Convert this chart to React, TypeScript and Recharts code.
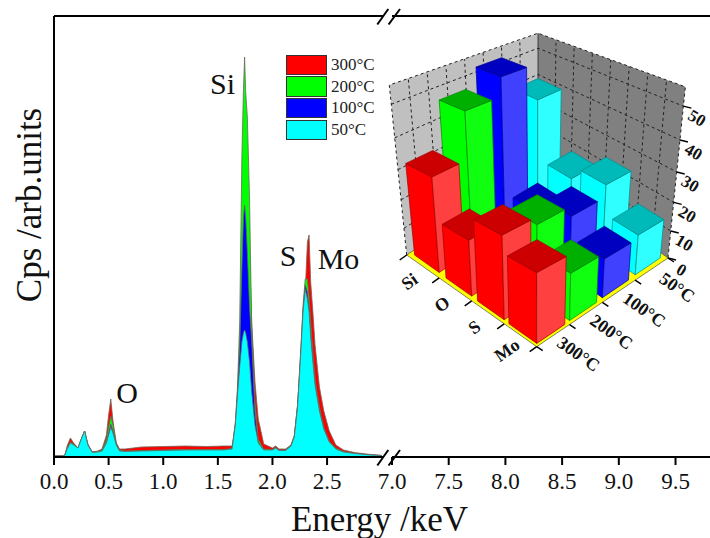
import { Area, AreaChart, Legend, ReferenceDot, Scatter, ScatterChart, XAxis, YAxis } from "recharts";

// EDS spectrum on a broken energy axis, with a 3D bar inset. Recharts has no 3D
// bars, so the inset is a scatter of floor positions with a custom box shape.

const WIDTH = 710;
const HEIGHT = 538;
const SERIF = "'Liberation Serif', 'Times New Roman', serif";

const ENERGY = [
  0, 0.08, 0.1, 0.12, 0.15, 0.18, 0.22, 0.25, 0.28, 0.31,
  0.35, 0.4, 0.44, 0.48, 0.5, 0.52, 0.54, 0.57, 0.6, 0.65,
  0.8, 1.0, 1.2, 1.4, 1.55, 1.63, 1.66, 1.68, 1.7, 1.72,
  1.735, 1.745, 1.755, 1.77, 1.79, 1.81, 1.84, 1.87, 1.92, 2.0,
  2.03, 2.06, 2.12, 2.17, 2.2, 2.23, 2.26, 2.28, 2.3, 2.32,
  2.335, 2.35, 2.37, 2.39, 2.43, 2.47, 2.52, 2.58, 2.65, 2.75,
  2.9, 3.0,
];
const COUNTS_50 = [
  1, 1, 2, 8, 14, 12, 9, 18, 26, 12,
  4.5, 5, 6, 14, 22, 30, 24, 12, 6, 5.5,
  6, 6.5, 7, 7, 7, 8, 32, 62, 90, 115,
  124, 127, 124, 115, 95, 65, 32, 14, 7, 7,
  9, 6.5, 6.5, 11, 20, 50, 105, 145, 168, 158,
  145, 120, 95, 72, 46, 28, 15, 8, 5, 3.5,
  2, 1.5,
];
const COUNTS_100 = [
  1, 1, 2, 8, 14, 12, 9, 18, 26, 12,
  4.5, 5, 6, 15, 24, 33, 26, 13, 6, 5.5,
  6, 6.5, 7, 7, 7, 8, 33, 66, 110, 190,
  240, 252, 240, 205, 150, 115, 45, 15, 7, 7,
  9, 6.5, 6.5, 11, 20, 50, 106, 147, 172, 165,
  150, 125, 98, 74, 47, 29, 15, 8, 5, 3.5,
  2, 1.5,
];
const COUNTS_200 = [
  1, 1, 2, 9, 15, 13, 9, 18, 26, 12,
  5, 5.5, 7, 18, 30, 41, 32, 14, 7, 6,
  6.5, 7, 7.5, 7.5, 7.5, 8.5, 34, 70, 135, 300,
  370, 400, 365, 340, 260, 130, 55, 18, 8, 7.5,
  9.5, 7, 7, 12, 21, 52, 108, 152, 178, 178,
  160, 135, 105, 78, 50, 30, 16, 9, 5.5, 3.5,
  2, 1.5,
];
const COUNTS_300 = [
  1, 1, 2, 11, 19, 14, 9, 18, 26, 13,
  5, 6, 8, 22, 42, 58, 36, 14, 8, 8,
  10, 10.5, 11, 10.5, 11, 11, 24, 50, 95, 190,
  260, 285, 300, 275, 205, 135, 75, 38, 13, 9,
  11, 8, 8, 12, 21, 52, 100, 130, 165, 215,
  222, 175, 145, 112, 70, 46, 26, 12, 7, 4.5,
  2.5, 1.5,
];
const TAIL_ENERGY = [7, 8, 9, 9.8];
const TAIL_COUNTS = [0, 0, 0, 0];

const LEFT_TICKS = [0, 0.5, 1, 1.5, 2, 2.5];
const RIGHT_TICKS = [7, 7.5, 8, 8.5, 9, 9.5];

const PEAK_LABELS = [
  { text: "O", energy: 0.67, counts: 65 },
  { text: "Si", energy: 1.543, counts: 374 },
  { text: "S", energy: 2.143, counts: 202 },
  { text: "Mo", energy: 2.605, counts: 199 },
];

const SERIES = [
  { key: "c300", label: "300°C", color: "#ff0000", values: COUNTS_300 },
  { key: "c200", label: "200°C", color: "#00ff00", values: COUNTS_200 },
  { key: "c100", label: "100°C", color: "#0000ff", values: COUNTS_100 },
  { key: "c50", label: "50°C", color: "#00ffff", values: COUNTS_50 },
];

const spectrum = ENERGY.map((energy, i) => ({
  energy,
  c300: COUNTS_300[i],
  c200: COUNTS_200[i],
  c100: COUNTS_100[i],
  c50: COUNTS_50[i],
}));
const tail = TAIL_ENERGY.map((energy, i) => ({ energy, counts: TAIL_COUNTS[i] }));

// inset data, at% read against the wall scale
const ELEMENTS = ["Si", "O", "S", "Mo"];
const TEMPS = ["300°C", "200°C", "100°C", "50°C"];
const BARS_300 = [32, 18.5, 26, 21];
const BARS_200 = [47, 13, 23.5, 15];
const BARS_100 = [53, 14, 20, 13];
const BARS_50 = [40.5, 19, 24, 14];
const WALL_TICKS = [0, 10, 20, 30, 40, 50];
const WALL_TOP = 55.5;

const BAR_STYLES = [
  { values: BARS_50, row: 3, left: "#00ffff", right: "#30ffff", top: "#00baba", edge: "#008c8c" },
  { values: BARS_100, row: 2, left: "#0000ff", right: "#4040ff", top: "#0000c0", edge: "#000090" },
  { values: BARS_200, row: 1, left: "#00ff00", right: "#10ff10", top: "#00b000", edge: "#008800" },
  { values: BARS_300, row: 0, left: "#ff0000", right: "#ff4040", top: "#cc0000", edge: "#a00000" },
];

// floor corners of the inset, plus the nadir the verticals converge on
const FRONT = { x: 536.7, y: 346.7 };
const LEFT = { x: 406.7, y: 255 };
const RIGHT = { x: 668, y: 258 };
const CENTER_X = 538;
const BACK_Y = 166;

function floorPoint(u: number, v: number) {
  return {
    x: FRONT.x + (LEFT.x - FRONT.x) * (1 - u) + (RIGHT.x - FRONT.x) * v,
    y: FRONT.y + (LEFT.y - FRONT.y) * (1 - u) + (RIGHT.y - FRONT.y) * v,
  };
}

const depthOf = (y: number) => (y - BACK_Y) / (FRONT.y - BACK_Y);

function project(u: number, v: number, w: number) {
  const g = floorPoint(u, v);
  const h = (2.6 * w + 0.0085 * w * w) * (0.78 + 0.44 * depthOf(g.y));
  return { x: CENTER_X + (g.x - CENTER_X) * (1 + 0.00078 * h), y: g.y - h };
}

const poly = (pts: { x: number; y: number }[]) => pts.map((p) => `${p.x},${p.y}`).join(" ");

function BarBox(props: any) {
  const { u, v, value, style, gy } = props.payload ?? props;
  // boxes further back come out narrower
  const a = 0.113 * (0.7 + 0.28 * depthOf(gy));
  const corner = (du: number, dv: number, w: number) => project(u + du * a, v + dv * a, w);
  const strokeProps = { stroke: style.edge, strokeWidth: 0.7 };
  return (
    <g>
      <polygon
        points={poly([corner(-1, -1, 0), corner(1, -1, 0), corner(1, -1, value), corner(-1, -1, value)])}
        fill={style.left}
        {...strokeProps}
      />
      <polygon
        points={poly([corner(1, -1, 0), corner(1, 1, 0), corner(1, 1, value), corner(1, -1, value)])}
        fill={style.right}
        {...strokeProps}
      />
      <polygon
        points={poly([corner(-1, -1, value), corner(1, -1, value), corner(1, 1, value), corner(-1, 1, value)])}
        fill={style.top}
        {...strokeProps}
      />
    </g>
  );
}

const GRID_STEPS = [1, 2, 3, 4, 5, 6, 7];
const GRID_LEVELS = [10, 20, 30, 40, 50];

function InsetFrame() {
  const gridLine = { stroke: "#222", strokeWidth: 1, strokeDasharray: "3 3", fill: "none" };
  return (
    <g>
      <polygon points={poly([project(0, 0, 0), project(0, 1, 0), project(0, 1, WALL_TOP), project(0, 0, WALL_TOP)])} fill="#c0c0c0" />
      <polygon points={poly([project(0, 1, 0), project(1, 1, 0), project(1, 1, WALL_TOP), project(0, 1, WALL_TOP)])} fill="#808080" />
      {GRID_STEPS.map((k) => (
        <g key={k}>
          <polyline points={poly([project(0, k / 8, 0), project(0, k / 8, WALL_TOP)])} {...gridLine} />
          <polyline points={poly([project(k / 8, 1, 0), project(k / 8, 1, WALL_TOP)])} {...gridLine} />
        </g>
      ))}
      {GRID_LEVELS.map((w) => (
        <polyline key={w} points={poly([project(0, 0, w), project(0, 1, w), project(1, 1, w)])} {...gridLine} />
      ))}
      <polyline points={poly([project(0, 0, 0), project(0, 0, WALL_TOP), project(0, 1, WALL_TOP), project(1, 1, WALL_TOP), project(1, 1, 0)])} {...gridLine} />
      <line x1={project(0, 1, 0).x} y1={project(0, 1, 0).y} x2={project(0, 1, WALL_TOP).x} y2={project(0, 1, WALL_TOP).y} stroke="#222" strokeWidth={0.8} />
      <polygon points={poly([project(0, 0, 0), project(1, 0, 0), project(1, 1, 0), project(0, 1, 0)])} fill="#ffff00" stroke="#333" strokeWidth={0.6} />
    </g>
  );
}

function InsetAxes() {
  const tickStyle = { stroke: "#000", strokeWidth: 1.5 };
  const textStyle = { fontFamily: SERIF, fontWeight: 700, fontSize: 18, fill: "#111", textAnchor: "middle" as const, dominantBaseline: "central" as const };
  return (
    <g>
      {[0, 1, 2, 3, 4].map((k) => {
        const p = floorPoint(k / 4, 0);
        return <line key={k} x1={p.x} y1={p.y} x2={p.x - 7} y2={p.y + 5} {...tickStyle} />;
      })}
      {[0, 1, 2, 3, 4].map((k) => {
        const p = floorPoint(1, k / 4);
        return <line key={k} x1={p.x} y1={p.y} x2={p.x + 6} y2={p.y + 4} {...tickStyle} />;
      })}
      {ELEMENTS.map((name, i) => {
        const p = floorPoint((i + 0.5) / 4, 0);
        const x = p.x - 13.5;
        const y = p.y + 15;
        return <text key={name} x={x} y={y} transform={`rotate(-35 ${x} ${y})`} {...textStyle}>{name}</text>;
      })}
      {TEMPS.map((name, j) => {
        const p = floorPoint(1, (j + 0.5) / 4);
        const x = p.x + 25.5;
        const y = p.y + 18.5;
        return <text key={name} x={x} y={y} transform={`rotate(35 ${x} ${y})`} {...textStyle}>{name}</text>;
      })}
      {WALL_TICKS.map((w) => {
        const p = project(1, 1, w);
        const x = p.x + 13.5;
        const y = p.y + 12;
        return (
          <g key={w}>
            <line x1={p.x} y1={p.y} x2={p.x + 8} y2={p.y + 2} {...tickStyle} />
            <text x={x} y={y} transform={`rotate(30 ${x} ${y})`} {...textStyle} fontSize={17}>{w}</text>
          </g>
        );
      })}
    </g>
  );
}

function LegendBox() {
  return (
    <div style={{ fontFamily: SERIF, fontSize: 17, color: "#222" }}>
      {SERIES.map((s) => (
        <div key={s.key} style={{ display: "flex", alignItems: "center", height: 21.7 }}>
          <div style={{ width: 39, height: 18.5, background: s.color, border: "0.5px solid #333", marginRight: 4 }} />
          <span>{s.label}</span>
        </div>
      ))}
    </div>
  );
}

const axisProps = { stroke: "#000", strokeWidth: 2 };
const panelStyle = { position: "absolute" as const, left: 0, top: 0 };

export default function App() {
  const tickFont = { fontFamily: SERIF, fontSize: 23, fill: "#111" };
  return (
    <div style={{ position: "absolute", left: 0, top: 0, width: WIDTH, height: HEIGHT, background: "#fff", overflow: "hidden" }}>
      {/* left panel, 0 to 3 keV */}
      <AreaChart
        style={panelStyle}
        width={WIDTH}
        height={HEIGHT}
        data={spectrum}
        margin={{ top: 15, right: WIDTH - 383, bottom: 21, left: 53 }}
      >
        <XAxis
          dataKey="energy"
          type="number"
          domain={[0, 3.012]}
          ticks={LEFT_TICKS}
          interval={0}
          height={60}
          tickSize={8}
          tickMargin={8}
          tickFormatter={(v: number) => v.toFixed(1)}
          tick={tickFont}
          axisLine={axisProps}
          tickLine={axisProps}
        />
        <XAxis xAxisId="top" orientation="top" dataKey="energy" type="number" domain={[0, 3.012]} height={1} tick={false} tickLine={false} axisLine={axisProps} />
        <YAxis domain={[0, 441]} width={1} tick={false} tickLine={false} axisLine={axisProps} />
        {SERIES.map((s) => (
          <Area
            key={s.key}
            dataKey={s.key}
            name={s.label}
            type="linear"
            fill={s.color}
            fillOpacity={1}
            stroke="#6a6a5a"
            strokeWidth={0.8}
            dot={false}
            isAnimationActive={false}
          />
        ))}
        {PEAK_LABELS.map((p) => (
          <ReferenceDot
            key={p.text}
            x={p.energy}
            y={p.counts}
            r={0}
            stroke="none"
            label={{ value: p.text, position: "center", style: { fontFamily: SERIF, fontSize: 30, fill: "#111" } }}
          />
        ))}
        <Legend
          layout="vertical"
          align="center"
          verticalAlign="middle"
          wrapperStyle={{ left: 286, top: 54, width: 95 }}
          content={() => <LegendBox />}
        />
      </AreaChart>

      {/* right panel, 7 keV up */}
      <AreaChart
        style={panelStyle}
        width={WIDTH}
        height={HEIGHT}
        data={tail}
        margin={{ top: 15, right: 0, bottom: 21, left: 392 }}
      >
        <XAxis
          dataKey="energy"
          type="number"
          domain={[7, 9.804]}
          ticks={RIGHT_TICKS}
          interval={0}
          height={60}
          tickSize={8}
          tickMargin={8}
          tickFormatter={(v: number) => v.toFixed(1)}
          tick={tickFont}
          axisLine={axisProps}
          tickLine={axisProps}
        />
        <XAxis xAxisId="top" orientation="top" dataKey="energy" type="number" domain={[7, 9.804]} height={1} tick={false} tickLine={false} axisLine={axisProps} />
        <YAxis domain={[0, 441]} width={0} hide />
        <Area dataKey="counts" type="linear" fill="#00ffff" stroke="none" isAnimationActive={false} />
      </AreaChart>

      {/* inset */}
      <ScatterChart style={panelStyle} width={WIDTH} height={HEIGHT} margin={{ top: 0, right: 0, bottom: 0, left: 0 }}>
        <XAxis dataKey="gx" type="number" domain={[0, WIDTH]} hide />
        <YAxis dataKey="gy" type="number" domain={[0, HEIGHT]} reversed hide width={0} />
        <InsetFrame />
        {BAR_STYLES.map((style) => (
          <Scatter
            key={style.row}
            data={ELEMENTS.map((name, i) => {
              const u = (i + 0.5) / 4;
              const v = (style.row + 0.5) / 4;
              const g = floorPoint(u, v);
              return { name, gx: g.x, gy: g.y, u, v, value: style.values[i], style };
            })}
            shape={BarBox}
            isAnimationActive={false}
          />
        ))}
        <InsetAxes />
      </ScatterChart>

      {/* axis titles and break marks */}
      <svg style={{ ...panelStyle, pointerEvents: "none" }} width={WIDTH} height={HEIGHT}>
        <text x={379.5} y={531} textAnchor="middle" fontFamily={SERIF} fontSize={35} fill="#111">Energy /keV</text>
        <text x={41} y={205} textAnchor="middle" transform="rotate(-90 41 205)" fontFamily={SERIF} fontSize={35} fill="#111">Cps /arb.units</text>
        {[16, 457].map((y) => (
          <g key={y} stroke="#000" strokeWidth={2}>
            <line x1={377.3} y1={y + 8.5} x2={388.3} y2={y - 7} />
            <line x1={388.6} y1={y + 8.5} x2={400} y2={y - 7} />
          </g>
        ))}
      </svg>
    </div>
  );
}
